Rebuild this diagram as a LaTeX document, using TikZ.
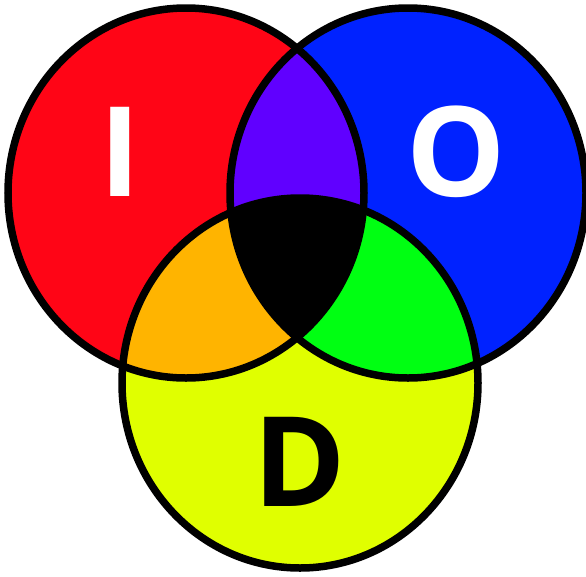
\documentclass[tikz,border=0pt]{standalone}
\usepackage{fontspec}
\setmainfont{Open Sans}
\definecolor{cred}{HTML}{FF0516}
\definecolor{cblue}{HTML}{0022FF}
\definecolor{cyellow}{HTML}{E0FF00}
\definecolor{cpurple}{HTML}{6000FF}
\definecolor{corange}{HTML}{FFB400}
\definecolor{cgreen}{HTML}{00FF12}
\tikzset{
  outline/.style={draw=black, line width=7.5pt},
  letter/.style={font=\fontsize{125}{125}\selectfont\bfseries, inner sep=0pt, anchor=center},
}
\begin{document}
\begin{tikzpicture}[x=1pt,y=-1pt]
\useasboundingbox (0,0) rectangle (586,576);
\def\redpath{(186,193) ellipse [x radius=178, y radius=185]}
\def\bluepath{(408,193) ellipse [x radius=178, y radius=185]}
\def\yellowpath{(300,383) ellipse [x radius=178, y radius=185]}
% base fills
\fill[cred] \redpath;
\fill[cblue] \bluepath;
\fill[cyellow] \yellowpath;
% pairwise overlaps
\begin{scope}
  \clip \redpath;
  \fill[cpurple] \bluepath;
  \fill[corange] \yellowpath;
\end{scope}
\begin{scope}
  \clip \bluepath;
  \fill[cgreen] \yellowpath;
\end{scope}
\begin{scope}
  \clip \redpath;
  \clip \bluepath;
  \fill[black] \yellowpath;
\end{scope}
% outlines
\draw[outline] \redpath;
\draw[outline] \bluepath;
\draw[outline] \yellowpath;
% letters
\node[letter, text=white] (I) at (120,152) {I};
\node[letter, text=white] (O) at (456,152) {O};
\node[letter, text=black] (D) at (300,462) {D};
\end{tikzpicture}
\end{document}
